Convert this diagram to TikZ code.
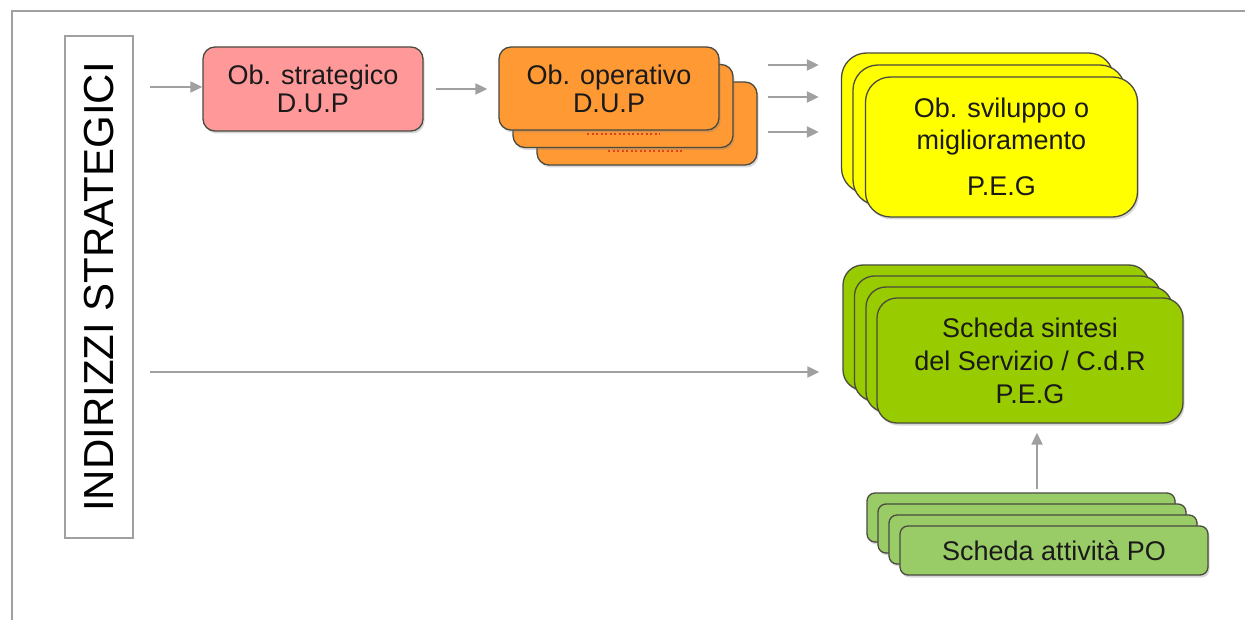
\documentclass[tikz,border=0pt]{standalone}
\usepackage{fontspec}
\setmainfont{Liberation Sans}
\usetikzlibrary{arrows.meta,shadows}
\definecolor{framec}{HTML}{A0A0A0}
\definecolor{arrc}{HTML}{A0A0A0}
\definecolor{bordc}{HTML}{4A4A40}
\definecolor{txtc}{HTML}{1A1A1A}
\definecolor{pinkc}{HTML}{FF9999}
\definecolor{orangec}{HTML}{FF9933}
\definecolor{yellowc}{HTML}{FFFF00}
\definecolor{greenc}{HTML}{99CC00}
\definecolor{lgreenc}{HTML}{99CC66}
\definecolor{dotc}{HTML}{E0401A}
\begin{document}
\begin{tikzpicture}[x=1pt,y=-1pt,
  mybox/.style={draw=bordc, line width=1.3pt, inner sep=0pt, align=center,
    text=txtc, font=\fontsize{27}{30}\selectfont,
    drop shadow={opacity=0.3, shadow xshift=1.5pt, shadow yshift=-2.5pt}},
  arr/.style={draw=arrc, line width=2pt, -{Triangle[length=12pt,width=11pt]}},
  dotline/.style={dotc, line width=2pt, dash pattern=on 2pt off 2.5pt},
  opbox/.style={mybox, fill=orangec, rounded corners=12pt, minimum width=220pt, minimum height=83pt},
  yelbox/.style={mybox, fill=yellowc, rounded corners=25pt, minimum width=272pt, minimum height=140pt},
  grbox/.style={mybox, fill=greenc, rounded corners=20pt, minimum width=306pt, minimum height=125pt},
  lgbox/.style={mybox, fill=lgreenc, rounded corners=8pt, minimum width=308pt, minimum height=49pt}]
\useasboundingbox (0,0) rectangle (1245,620);
\fill[white] (0,0) rectangle (1245,620);
% outer frame
\draw[framec, line width=2pt] (12,620) -- (12,11) -- (1245,11);
% vertical label
\node[draw=framec, line width=1.2pt, rotate=90, minimum width=502pt, minimum height=68pt,
  inner sep=0pt, font=\fontsize{42}{46}\selectfont, text=black] (ind) at (99,287) {INDIRIZZI STRATEGICI};
% strategic objective
\node[mybox, fill=pinkc, rounded corners=12pt, minimum width=220pt, minimum height=84pt,
  font=\fontsize{27}{28}\selectfont] (strat) at (313,89) {Ob. strategico\\D.U.P};
% operative stack
\node[opbox] (op3) at (647,123.5) {};
\node[opbox] (op2) at (623,106) {};
\node[opbox, font=\fontsize{27}{28}\selectfont] (op1) at (609,88.5) {Ob. operativo\\D.U.P};
\draw[dotline] (587,134) -- (660,134);
\draw[dotline] (608,151) -- (683,151);
% yellow stack
\node[yelbox] (yel3) at (977.5,123) {};
\node[yelbox] (yel2) at (989,135) {};
\node[yelbox, font=\fontsize{27}{32}\selectfont] (yel1) at (1001.5,147) {Ob. sviluppo o\\miglioramento\\[14pt]P.E.G};
% green stack
\node[grbox] (gr4) at (996,327.5) {};
\node[grbox] (gr3) at (1007.5,338.5) {};
\node[grbox] (gr2) at (1019,349.5) {};
\node[grbox, font=\fontsize{27}{33}\selectfont] (gr1) at (1030,360.5) {Scheda sintesi\\del Servizio / C.d.R\\P.E.G};
% light green stack
\node[lgbox] (lg4) at (1021,517.5) {};
\node[lgbox] (lg3) at (1032,528.5) {};
\node[lgbox] (lg2) at (1043,539.5) {};
\node[lgbox] (lg1) at (1054,550.5) {Scheda attività PO};
% connectors
\coordinate (s1) at (150,87);
\draw[arr] (s1) -- (s1 -| strat.west);
\draw[arr, shorten <=12pt, shorten >=11pt] (strat.east) -- (strat.east -| op1.west);
\coordinate (t1) at (768,65);
\coordinate (t2) at (768,97);
\coordinate (t3) at (768,132);
\draw[arr, shorten >=22pt] (t1) -- (t1 -| yel3.west);
\draw[arr, shorten >=22pt] (t2) -- (t2 -| yel3.west);
\draw[arr, shorten >=22pt] (t3) -- (t3 -| yel3.west);
\coordinate (s2) at (150,372);
\draw[arr, shorten >=23pt] (s2) -- (s2 -| gr4.west);
\coordinate (up) at ([xshift=7pt]gr1.south);
\draw[arr, shorten <=3pt, shorten >=9pt] (lg4.north -| up) -- (up);
\end{tikzpicture}
\end{document}
